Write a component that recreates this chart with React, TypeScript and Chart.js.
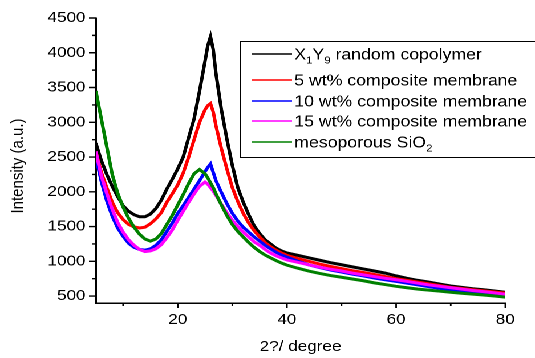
import React, { useEffect, useRef } from 'react';
import { Chart, registerables } from 'chart.js';

Chart.register(...registerables);

// ---- data ----
const twoTheta = [
  5, 6, 7, 8, 9, 10, 11, 12, 13, 14, 15, 16, 17, 18, 19, 20, 21, 22, 23, 24, 25, 25.5, 26, 26.5,
  27, 28, 29, 30, 31, 32, 33, 34, 35, 36, 37, 38, 39, 40,
  42, 44, 46, 48, 50, 52, 54, 56, 58, 60, 62, 64, 66, 68, 70, 72, 74, 76, 78, 80,
];

const copolymer = [
  2700, 2450, 2250, 2080, 1930, 1800, 1720, 1670, 1640, 1640, 1680, 1760, 1880, 2040, 2180, 2330, 2500, 2780, 3050, 3450, 3880, 4100, 4230, 4050,
  3700, 3180, 2760, 2380, 2060, 1850, 1670, 1510, 1400, 1310, 1250, 1190, 1150, 1120,
  1085, 1050, 1015, 980, 950, 920, 890, 860, 830, 790, 755, 725, 700, 672, 645, 625, 605, 590, 572, 555,
];

const wt5 = [
  2580, 2280, 2060, 1850, 1700, 1600, 1530, 1495, 1480, 1490, 1540, 1610, 1700, 1850, 1970, 2100, 2270, 2500, 2750, 3000, 3180, 3240, 3270, 3150,
  2950, 2620, 2330, 2060, 1860, 1690, 1550, 1440, 1350, 1270, 1210, 1160, 1120, 1085,
  1040, 1000, 960, 925, 895, 865, 840, 810, 780, 750, 725, 700, 675, 650, 625, 608, 590, 575, 558, 542,
];

const wt10 = [
  2500, 2150, 1870, 1650, 1480, 1360, 1260, 1200, 1170, 1160, 1180, 1230, 1310, 1430, 1550, 1690, 1800, 1920, 2040, 2160, 2290, 2350, 2400, 2280,
  2160, 1990, 1830, 1690, 1580, 1490, 1420, 1350, 1290, 1230, 1180, 1130, 1090, 1060,
  1000, 950, 910, 875, 845, 815, 790, 760, 735, 710, 685, 660, 635, 610, 590, 570, 552, 535, 515, 490,
];

const wt15 = [
  2580, 2230, 1980, 1750, 1560, 1420, 1310, 1230, 1170, 1140, 1150, 1180, 1240, 1340, 1450, 1590, 1720, 1850, 1970, 2080, 2140, 2110, 2060, 2010,
  1950, 1820, 1700, 1590, 1500, 1420, 1350, 1280, 1230, 1170, 1120, 1080, 1050, 1020,
  985, 950, 915, 885, 860, 830, 805, 780, 755, 735, 710, 685, 660, 640, 620, 600, 580, 563, 545, 525,
];

const sio2 = [
  3450, 3050, 2650, 2250, 1980, 1780, 1620, 1490, 1390, 1320, 1290, 1320, 1400, 1530, 1660, 1810, 1960, 2120, 2260, 2320, 2260, 2200, 2130, 2060,
  1970, 1810, 1660, 1530, 1430, 1350, 1270, 1200, 1140, 1090, 1050, 1010, 975, 945,
  900, 860, 825, 795, 770, 745, 720, 690, 665, 640, 620, 600, 585, 570, 555, 540, 528, 515, 500, 485,
];

const seriesValues = [copolymer, wt5, wt10, wt15, sio2];
const seriesColors = ['#000000', '#ff0000', '#0000ff', '#ff00ff', '#008000'];
const seriesLabels = [
  'X1Y9 random copolymer',
  '5 wt% composite membrane',
  '10 wt% composite membrane',
  '15 wt% composite membrane',
  'mesoporous SiO2',
];
// legend text with subscripts
const legendParts: { t: string; sub?: boolean }[][] = [
  [{ t: 'X' }, { t: '1', sub: true }, { t: 'Y' }, { t: '9', sub: true }, { t: ' random copolymer' }],
  [{ t: '5 wt% composite membrane' }],
  [{ t: '10 wt% composite membrane' }],
  [{ t: '15 wt% composite membrane' }],
  [{ t: 'mesoporous SiO' }, { t: '2', sub: true }],
];

const xMajorTicks = [20, 40, 60, 80];
const xMinorTicks = [10, 30, 50, 70];
const yMajorTicks = [500, 1000, 1500, 2000, 2500, 3000, 3500, 4000, 4500];
const yMinorTicks = [750, 1250, 1750, 2250, 2750, 3250, 3750, 4250];

const xTitle = '2?/ degree';
const yTitle = 'Intensity (a.u.)';

// ---- layout ----
const W = 469;
const H = 358;
const SX = 535 / W;
const FAMILY = '"Liberation Sans", Arial, Helvetica, sans-serif';

const decorPlugin = {
  id: 'decor',
  afterDraw(chart: any) {
    const ctx: CanvasRenderingContext2D = chart.ctx;
    const { left, bottom } = chart.chartArea;
    const xs = chart.scales.x;
    const ys = chart.scales.y;
    ctx.save();
    ctx.strokeStyle = '#000';
    ctx.lineWidth = 1.4;
    ctx.beginPath();
    yMajorTicks.forEach((v) => {
      const p = ys.getPixelForValue(v);
      ctx.moveTo(left, p);
      ctx.lineTo(left - 6, p);
    });
    yMinorTicks.forEach((v) => {
      const p = ys.getPixelForValue(v);
      ctx.moveTo(left, p);
      ctx.lineTo(left - 3.5, p);
    });
    xMajorTicks.forEach((v) => {
      const p = xs.getPixelForValue(v);
      ctx.moveTo(p, bottom);
      ctx.lineTo(p, bottom + 5);
    });
    xMinorTicks.forEach((v) => {
      const p = xs.getPixelForValue(v);
      ctx.moveTo(p, bottom);
      ctx.lineTo(p, bottom + 3);
    });
    ctx.stroke();

    // y title
    ctx.save();
    ctx.translate(16, 166);
    ctx.rotate(-Math.PI / 2);
    ctx.fillStyle = '#000';
    ctx.font = `15px ${FAMILY}`;
    ctx.textAlign = 'center';
    ctx.textBaseline = 'middle';
    ctx.fillText(yTitle, 0, 0);
    ctx.restore();

    // legend
    const boxL = 210.5;
    const boxT = 41.5;
    const boxB = 157.5;
    ctx.fillStyle = '#fff';
    ctx.fillRect(boxL, boxT, W + 10 - boxL, boxB - boxT);
    ctx.lineWidth = 1;
    ctx.strokeStyle = '#000';
    ctx.strokeRect(boxL, boxT, W + 10 - boxL, boxB - boxT);
    const rows = [54, 80, 101, 121, 142];
    legendParts.forEach((parts, i) => {
      const y = rows[i];
      ctx.strokeStyle = seriesColors[i];
      ctx.lineWidth = 1.5;
      ctx.beginPath();
      ctx.moveTo(221, y);
      ctx.lineTo(256, y);
      ctx.stroke();
      let x = 258;
      ctx.fillStyle = '#000';
      ctx.textAlign = 'left';
      ctx.textBaseline = 'middle';
      parts.forEach((p) => {
        ctx.font = p.sub ? `10px ${FAMILY}` : `15.5px ${FAMILY}`;
        ctx.fillText(p.t, x, p.sub ? y + 6.5 : y + 1);
        x += ctx.measureText(p.t).width;
      });
    });
    ctx.restore();
  },
};

export default function App() {
  const ref = useRef<HTMLCanvasElement | null>(null);

  useEffect(() => {
    if (!ref.current) return;
    const datasets = seriesValues.map((vals, i) => ({
      label: seriesLabels[i],
      data: twoTheta.map((x, j) => ({ x, y: vals[j] })),
      borderColor: seriesColors[i],
      backgroundColor: seriesColors[i],
      borderWidth: 3,
      pointRadius: 0,
      tension: 0,
      fill: false,
      order: seriesValues.length - 1 - i,
    }));
    const tickFont = { family: FAMILY, size: 15 };
    const chart = new Chart(ref.current, {
      type: 'line',
      data: { datasets },
      options: {
        responsive: false,
        animation: false,
        devicePixelRatio: 2,
        layout: { padding: { top: 17, right: 26, left: 0, bottom: 0 } },
        plugins: { legend: { display: false }, tooltip: { enabled: false } },
        scales: {
          x: {
            type: 'linear',
            min: 5,
            max: 80,
            afterBuildTicks: (s: any) => {
              s.ticks = xMajorTicks.map((v) => ({ value: v }));
            },
            afterFit: (s: any) => {
              s.height = 55;
            },
            grid: { display: false, drawTicks: false },
            border: { display: true, color: '#000', width: 1.5 },
            ticks: {
              color: '#000',
              font: tickFont,
              padding: 8,
              maxRotation: 0,
              autoSkip: false,
              callback: (v: any) => String(v),
            },
            title: {
              display: true,
              text: xTitle,
              color: '#000',
              font: tickFont,
              padding: { top: 0, bottom: 2 },
            },
          },
          y: {
            type: 'linear',
            min: 400,
            max: 4500,
            afterBuildTicks: (s: any) => {
              s.ticks = yMajorTicks.map((v) => ({ value: v }));
            },
            afterFit: (s: any) => {
              s.width = 84;
            },
            grid: { display: false, drawTicks: false },
            border: { display: true, color: '#000', width: 1.5 },
            ticks: {
              color: '#000',
              font: tickFont,
              padding: 9,
              autoSkip: false,
              callback: (v: any) => String(v),
            },
          },
        },
      },
      plugins: [decorPlugin],
    } as any);
    return () => chart.destroy();
  }, []);

  return (
    <div
      style={{
        position: 'absolute',
        left: 0,
        top: 0,
        width: W,
        height: H,
        transform: `scaleX(${SX})`,
        transformOrigin: '0 0',
        background: '#fff',
      }}
    >
      <canvas ref={ref} width={W} height={H} style={{ display: 'block' }} />
    </div>
  );
}
